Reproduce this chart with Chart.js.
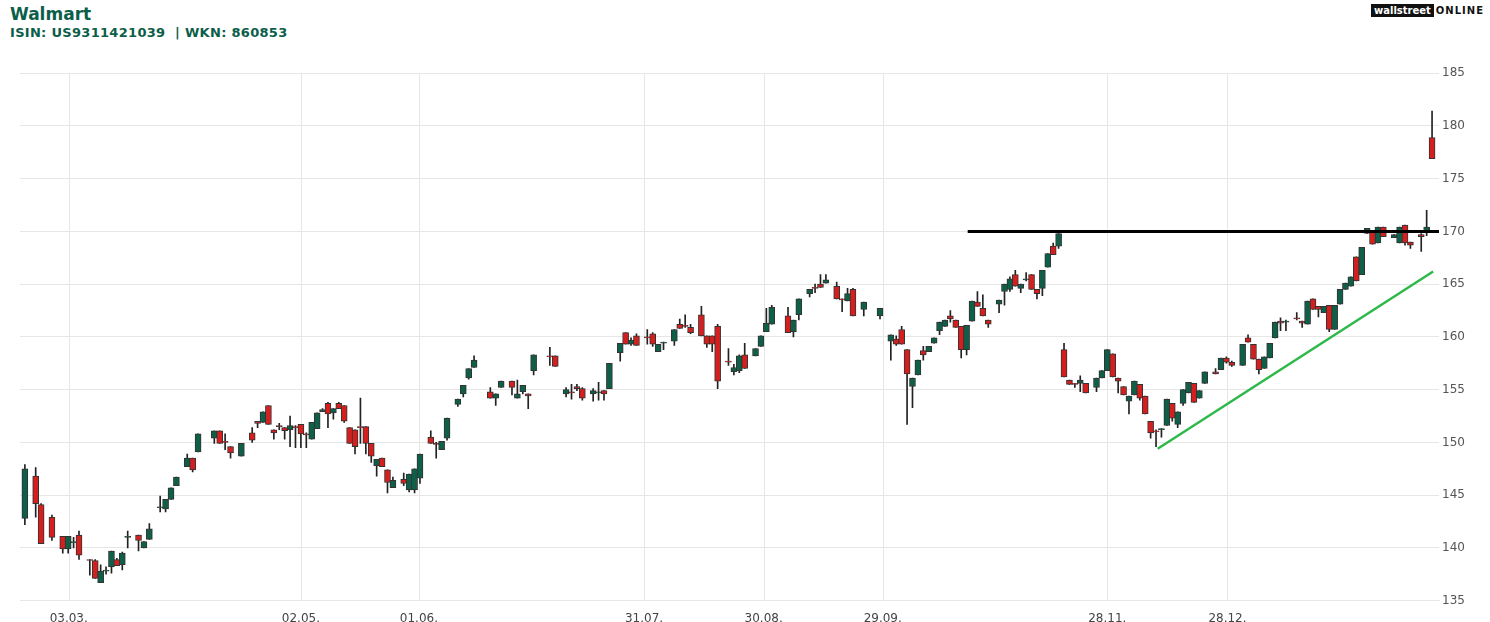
<!DOCTYPE html>
<html>
<head>
<meta charset="utf-8">
<script src="https://cdn.jsdelivr.net/npm/chart.js@4.4.0/dist/chart.umd.min.js"></script>
<style>
  body { margin: 0; background: #fff; font-family: "DejaVu Sans", sans-serif; overflow: hidden; }
  #head { position: absolute; left: 10px; top: 4px; color: #0b5e49; font-weight: bold; }
  #head .t { font-size: 17px; }
  #head .s { font-size: 13px; margin-top: 1px; letter-spacing: 0.3px; }
  #logo { position: absolute; right: 6px; top: 5px; font: bold 10px "DejaVu Sans", sans-serif; }
  #logo .w { background: #111; color: #fff; padding: 1px 3px; }
  #logo .o { color: #111; letter-spacing: 1px; margin-left: 2px; }
  #wrap { position: absolute; left: 0; top: 63px; width: 1490px; height: 566px; }
</style>
</head>
<body>
<div id="head"><div class="t">Walmart</div><div class="s">ISIN: US9311421039 &nbsp;| WKN: 860853</div></div>
<div id="logo"><span class="w">wallstreet</span><span class="o">ONLINE</span></div>
<div id="wrap"><canvas id="c"></canvas></div>
<script>
// Handelstage (Index), OHLC
var day = [0,2,3,5,7,8,9,10,12,13,14,15,16,17,18,19,21,22,23,25,26,27,28,30,31,32,35,36,37,38,40,42,43,44,45,46,47,48,49,50,51,52,53,54,55,56,57,58,59,60,61,62,63,64,65,66,67,68,70,71,72,73,75,76,77,78,80,81,82,83,86,87,88,90,91,92,93,94,97,98,100,101,102,103,105,106,107,108,110,111,112,113,115,116,117,118,120,121,122,123,125,126,127,128,130,131,132,133,135,136,137,138,141,142,143,145,146,147,148,150,151,152,153,155,158,160,161,162,163,164,165,166,167,168,169,170,171,172,173,174,175,176,177,178,180,181,182,183,184,185,186,187,188,189,190,191,192,193,194,195,196,198,199,200,201,202,203,204,205,206,207,208,209,210,211,212,213,214,215,216,217,218,220,221,222,223,225,226,227,228,229,230,231,232,233,235,236,237,238,239,240,241,242,243,244,245,246,247,248,249,250,251,253,254,255,256,258,259,260];
var open = [142.8,146.8,144.1,142.9,141.1,139.9,140.5,141.2,138.9,138.8,136.7,137.8,138.2,138.9,138.4,141.0,141.2,140.0,140.8,143.8,143.7,144.6,145.9,147.7,148.5,149.1,150.4,151.1,150.1,149.6,148.7,150.9,152.0,151.9,153.5,151.2,151.6,151.4,151.2,151.5,151.7,150.8,150.3,151.3,152.9,153.7,152.8,153.7,153.5,151.4,151.2,151.5,151.5,149.9,147.8,148.5,147.4,145.7,146.5,145.5,145.5,146.6,150.5,149.9,149.3,150.4,153.6,154.6,156.1,157.1,154.8,154.2,155.2,155.8,154.2,154.8,154.6,156.8,158.2,158.2,154.6,154.8,155.3,155.1,154.6,154.7,154.9,155.1,158.5,160.4,159.3,160.1,160.0,160.3,158.6,159.4,159.6,161.2,161.1,160.9,162.1,160.1,160.1,161.0,157.7,156.7,156.8,158.3,158.2,159.1,160.5,161.2,162.0,160.5,162.1,164.1,164.7,165.0,165.1,164.8,163.6,163.4,164.5,162.6,162.0,159.6,159.8,160.7,158.8,155.3,156.4,158.7,158.6,159.4,160.6,161.0,162.0,161.6,161.0,158.8,161.5,163.3,162.7,161.6,163.1,164.3,164.5,165.9,164.6,165.4,165.9,164.5,164.6,166.6,168.6,168.6,158.8,155.9,155.6,155.6,155.6,155.2,156.1,156.8,158.4,156.1,155.3,153.9,154.5,155.5,154.4,152.0,151.1,151.2,151.6,153.7,151.7,153.7,154.7,155.6,154.2,155.6,156.7,156.9,158.0,157.6,157.3,159.9,159.3,157.9,157.0,158.0,159.9,161.5,161.4,161.8,161.5,161.2,163.6,162.9,162.3,163.0,160.7,163.1,164.5,164.8,167.6,165.9,169.8,170.0,168.9,170.4,169.4,168.9,170.6,169.0,169.7,170.0,178.9];
var high = [147.9,147.6,144.2,143.1,141.1,141.1,141.0,141.6,138.9,138.9,138.4,138.2,139.7,139.0,139.6,141.6,141.2,140.6,142.3,144.9,144.6,145.7,146.7,148.9,148.5,150.8,151.1,151.1,150.8,149.6,149.9,151.4,152.0,152.9,153.5,151.2,151.8,151.4,152.5,151.6,151.7,150.9,151.9,152.8,153.2,153.8,153.2,153.8,153.5,151.4,151.2,154.2,151.5,149.9,148.4,148.5,147.4,146.7,147.1,147.0,147.5,148.9,151.1,150.0,150.1,152.3,154.1,155.4,157.0,158.2,155.2,154.6,155.8,155.8,155.9,155.4,154.6,158.3,159.0,158.2,155.2,155.5,155.5,155.2,155.1,155.7,154.9,157.5,159.4,160.4,159.9,160.3,160.7,160.4,159.3,159.5,160.7,161.7,162.1,161.2,162.9,160.1,160.1,161.2,158.9,157.4,158.3,159.4,158.9,160.1,162.7,163.0,162.8,161.6,163.6,164.5,165.0,165.9,165.9,165.2,163.6,164.6,164.6,163.3,162.7,160.2,160.1,161.0,158.8,156.1,157.8,159.1,159.1,159.9,161.4,161.6,162.5,161.6,161.0,161.1,163.4,164.3,164.0,161.6,163.5,165.0,165.7,166.3,165.0,166.1,165.9,164.5,166.3,167.9,168.9,169.8,159.4,155.9,155.6,156.3,155.6,156.1,156.8,158.8,158.4,156.1,155.3,154.4,155.8,155.5,154.4,152.0,151.2,151.3,154.1,153.7,152.9,155.0,155.7,155.6,154.9,156.7,157.0,158.0,158.1,157.7,159.3,160.2,159.3,157.9,158.1,159.4,161.4,161.8,161.6,162.3,161.5,163.4,163.6,162.9,162.9,163.0,163.0,164.5,165.1,165.7,167.6,168.5,170.3,170.0,170.4,170.4,169.7,170.4,170.6,169.0,169.8,172.0,181.4];
var low = [142.2,142.9,140.4,140.7,139.5,139.5,140.0,138.9,137.4,137.1,136.7,137.5,137.6,138.3,137.9,140.0,139.7,140.0,140.8,143.4,143.4,144.6,145.9,147.7,147.2,149.1,149.9,149.9,149.3,148.5,148.7,150.0,151.4,151.9,151.7,150.3,151.2,150.3,149.6,149.5,149.5,149.5,150.3,151.3,152.9,151.4,152.2,153.2,151.9,149.9,148.9,149.9,148.9,148.1,146.8,147.7,145.2,145.7,145.9,145.3,145.2,146.1,149.9,148.5,149.3,150.2,153.4,154.3,156.0,157.1,154.2,153.5,155.2,154.5,154.2,154.6,153.2,156.4,157.3,157.2,154.3,154.1,154.9,154.0,153.9,154.0,154.0,155.1,157.7,159.3,159.2,159.2,159.3,159.1,158.6,158.8,159.2,160.8,160.9,160.3,160.1,159.0,158.6,155.1,157.3,156.4,156.6,157.0,158.2,159.1,160.5,161.2,160.4,160.0,161.6,163.8,164.2,164.7,165.1,163.6,162.4,163.4,162.0,162.0,161.7,157.8,159.2,159.3,151.7,153.3,156.4,157.8,158.6,159.4,160.2,161.0,161.4,160.9,158.0,158.3,161.5,162.9,162.0,160.9,162.3,163.0,164.3,164.8,164.2,165.3,164.5,163.6,163.9,166.6,167.8,168.4,156.2,155.5,155.2,154.8,154.7,154.8,156.1,156.8,156.2,154.7,154.5,152.7,154.5,154.0,152.7,150.4,149.6,150.5,151.6,152.0,151.4,153.5,154.7,153.8,154.2,155.6,156.5,156.9,157.5,157.2,157.3,159.5,157.9,156.5,157.0,158.0,159.9,160.6,160.6,161.6,160.9,161.2,162.6,161.9,162.3,160.5,160.7,163.1,164.5,164.8,165.3,165.9,169.8,168.8,168.9,169.5,169.4,168.9,168.7,168.4,168.1,169.6,176.9];
var close = [147.5,144.2,140.4,141.0,139.9,141.1,140.6,139.3,138.8,137.1,137.8,137.9,139.7,138.3,139.5,141.1,140.7,140.6,141.8,143.9,144.6,145.7,146.7,148.5,147.4,150.8,151.1,149.9,150.0,149.0,149.9,150.2,151.8,152.9,151.7,150.9,151.5,151.1,151.6,151.4,150.8,150.7,151.9,152.8,153.1,152.7,153.2,153.2,152.0,149.9,149.6,151.4,149.9,148.7,148.4,147.7,146.2,146.4,146.1,147.0,147.5,148.9,149.9,149.8,150.1,152.3,154.1,155.4,157.0,157.8,154.2,154.6,155.8,155.2,154.6,155.4,154.4,158.3,158.1,157.2,155.0,154.7,155.1,154.2,154.9,154.8,154.6,157.5,159.4,159.3,159.7,159.2,159.9,159.3,159.3,159.5,160.7,160.8,161.0,160.4,160.1,159.3,159.3,155.8,157.6,157.1,158.2,157.0,158.9,160.1,161.3,162.8,160.4,161.6,163.6,164.5,164.6,164.7,165.4,163.6,163.5,164.1,162.0,163.3,162.7,160.2,159.3,159.3,156.5,156.1,157.8,158.3,159.1,159.9,161.4,161.6,161.7,160.9,158.8,161.1,163.4,162.9,162.0,161.2,163.5,165.0,165.5,164.8,165.0,165.5,164.5,164.1,166.3,167.9,167.8,169.8,156.2,155.5,155.5,155.9,154.7,156.1,156.8,158.8,156.2,155.8,154.5,154.4,155.8,154.2,152.7,150.9,151.0,151.3,154.1,152.3,152.9,155.0,155.7,153.8,154.9,156.7,156.5,158.0,157.6,157.3,159.3,159.5,157.9,156.9,158.1,159.4,161.4,161.3,161.5,161.7,161.3,163.4,162.6,162.6,162.9,160.7,163.0,164.5,165.1,165.7,165.3,168.5,170.3,168.8,170.4,169.5,169.7,170.4,168.9,168.7,169.5,170.4,176.9];

var tickPos = [8.1, 51, 72.8, 114.4, 136.5, 158.5, 200, 222.2];
var tickLabels = ['03.03.', '02.05.', '01.06.', '31.07.', '30.08.', '29.09.', '28.11.', '28.12.'];
var resistance = [{x: 174.2, y: 170.0}, {x: 261.3, y: 170.0}];
var trendLine = [{x: 209.3, y: 149.4}, {x: 260.2, y: 166.2}];

var RED = '#d41f1f', GREEN = '#0e5e48';
var colors = day.map(function(d, i) { return close[i] >= open[i] ? GREEN : RED; });
var bodies = day.map(function(d, i) {
    var a = open[i], b = close[i];
    if (Math.abs(a - b) < 0.08) b = a + 0.08;
    return {x: d, y: [a, b]};
});
var wicks = day.map(function(d, i) { return {x: d, y: [low[i], high[i]]}; });

// vertikale Gitterlinien an den Datumsmarken
var dateGrid = {
    id: 'dateGrid',
    beforeDatasetsDraw: function(chart) {
        var ctx = chart.ctx, xs = chart.scales.x, area = chart.chartArea;
        ctx.save();
        ctx.strokeStyle = '#e6e6e6';
        ctx.lineWidth = 1;
        tickPos.forEach(function(v) {
            var px = Math.round(xs.getPixelForValue(v)) + 0.5;
            ctx.beginPath();
            ctx.moveTo(px, area.top);
            ctx.lineTo(px, area.bottom);
            ctx.stroke();
        });
        ctx.restore();
    }
};

new Chart(document.getElementById('c'), {
    data: {
        datasets: [
            { type: 'line', data: resistance, borderColor: '#000', borderWidth: 3, pointRadius: 0, order: 1 },
            { type: 'line', data: trendLine, borderColor: '#2db84a', borderWidth: 2.5, pointRadius: 0, order: 1 },
            { type: 'bar', data: bodies, backgroundColor: colors, borderColor: '#333', borderWidth: 1,
              borderSkipped: false, barThickness: 6, grouped: false, order: 2 },
            { type: 'bar', data: wicks, backgroundColor: '#222', borderWidth: 0,
              barThickness: 1, grouped: false, order: 3 }
        ]
    },
    plugins: [dateGrid],
    options: {
        responsive: true,
        maintainAspectRatio: false,
        animation: false,
        layout: { padding: { left: 20, right: 22, top: 6, bottom: 0 } },
        plugins: { legend: { display: false }, tooltip: { enabled: false } },
        scales: {
            x: {
                type: 'linear', min: -0.9, max: 261.3, offset: false,
                afterBuildTicks: function(axis) { axis.ticks = tickPos.map(function(v) { return {value: v}; }); },
                ticks: {
                    autoSkip: false, maxRotation: 0, color: '#444', font: { size: 12, family: 'DejaVu Sans' },
                    callback: function(v) { var k = tickPos.indexOf(v); return k >= 0 ? tickLabels[k] : ''; }
                },
                grid: { display: false },
                border: { display: true, color: '#e6e6e6' }
            },
            y: {
                position: 'right', min: 135, max: 185,
                ticks: { stepSize: 5, color: '#555', font: { size: 12, family: 'DejaVu Sans' }, padding: 3 },
                grid: { color: '#e6e6e6', drawTicks: false },
                border: { display: false }
            }
        }
    }
});
</script>
</body>
</html>
